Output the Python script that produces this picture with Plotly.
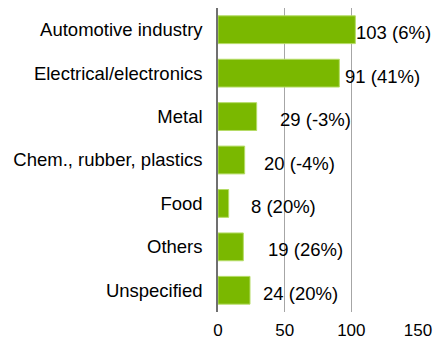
import plotly.graph_objects as go

# Industry sectors, top to bottom
sectors = [
    "Automotive industry",
    "Electrical/electronics",
    "Metal",
    "Chem., rubber, plastics",
    "Food",
    "Others",
    "Unspecified",
]
counts = [103, 91, 29, 20, 8, 19, 24]
changes = ["6%", "41%", "-3%", "-4%", "20%", "26%", "20%"]

tick_vals = [0, 50, 100, 150]

# Horizontal gap (px) between bar end and its label
label_gap_px = [-1, 4, 21, 17, 20, 23, 11]

BAR_GREEN = "#7ab800"
FONT = "Liberation Sans, Arial, sans-serif"
FONT_SIZE = 18.5

fig = go.Figure(
    go.Bar(
        x=counts,
        y=sectors,
        orientation="h",
        width=0.64,
        marker=dict(color=BAR_GREEN, line=dict(color="#b5dc66", width=1)),
        hoverinfo="skip",
    )
)

for sector, n, ch, gap in zip(sectors, counts, changes, label_gap_px):
    fig.add_annotation(
        x=n,
        y=sector,
        text=f"{n} ({ch})",
        showarrow=False,
        xanchor="left",
        yanchor="middle",
        xshift=gap,
        yshift=-3,
        font=dict(family=FONT, size=FONT_SIZE, color="#000000"),
    )

fig.update_layout(
    width=433,
    height=342,
    margin=dict(l=218, r=15, t=8, b=30),
    paper_bgcolor="white",
    plot_bgcolor="white",
    showlegend=False,
    font=dict(family=FONT, size=FONT_SIZE, color="#000000"),
    xaxis=dict(
        range=[0, 150],
        tickvals=tick_vals,
        tickfont=dict(size=17),
        showgrid=True,
        gridcolor="#a6a6a6",
        gridwidth=1,
        zeroline=False,
        showline=False,
        ticks="",
        ticklabelstandoff=6,
        ticklabeloverflow="allow",
        automargin=False,
        fixedrange=True,
    ),
    yaxis=dict(
        categoryorder="array",
        categoryarray=sectors[::-1],
        autorange=False,
        range=[-0.5, len(sectors) - 0.5],
        showline=True,
        linecolor="#707070",
        linewidth=1.5,
        showgrid=False,
        zeroline=False,
        ticks="",
        ticklabelstandoff=10,
        automargin=False,
        fixedrange=True,
    ),
)

fig.write_html("out.html")
